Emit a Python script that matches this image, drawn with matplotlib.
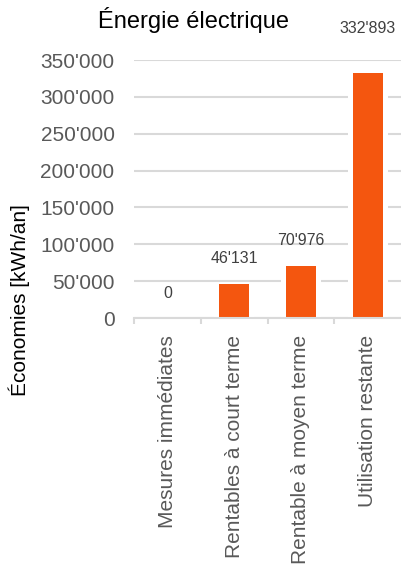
import matplotlib
matplotlib.use('Agg')
import matplotlib.pyplot as plt
from matplotlib.ticker import FuncFormatter
import numpy as np

plt.rcParams['font.family'] = ['Liberation Sans', 'DejaVu Sans']

categories = ['Mesures immédiates', 'Rentables à court terme',
              'Rentable à moyen terme', 'Utilisation restante']
savings = [0, 46131, 70976, 332893]
yticks = [0, 50000, 100000, 150000, 200000, 250000, 300000, 350000]

orange = '#f4560f'
grid = '#d9d9d9'

def swiss(v, pos=None):
    return f'{int(round(v)):,}'.replace(',', "'")

fig = plt.figure(figsize=(4.01, 5.66), dpi=100)
ax = fig.add_axes([134/401, 1-318/566, 1-134/401, 258/566])

x = np.arange(len(categories))
# white backing bars leave a gap in the gridlines around each bar
ax.bar(x, savings, width=0.6, color='white', zorder=2)
ax.bar(x, savings, width=0.45, color=orange, zorder=3)

for xi, v in zip(x, savings):
    off = 32 if v > 300000 else 18
    ax.annotate(swiss(v), (xi, v), xytext=(0, off), textcoords='offset points',
                ha='center', va='center', fontsize=11.5, color='#404040')

ax.set_xlim(-0.5, len(categories) - 0.5)
ax.set_ylim(0, 350000)
ax.set_yticks(yticks)
ax.yaxis.set_major_formatter(FuncFormatter(swiss))
ax.yaxis.grid(True, color=grid, linewidth=1.5, zorder=0)
ax.set_axisbelow(True)

ax.set_xticks(x)
ax.set_xticklabels(categories, rotation=90, va='top', ha='center')
ax.set_xticks(np.arange(len(categories)) - 0.5, minor=True)
ax.tick_params(axis='x', which='major', length=0, pad=12, labelsize=15, labelcolor='#595959')
ax.tick_params(axis='x', which='minor', length=4.5, width=1.5, color=grid)
ax.tick_params(axis='y', length=0, pad=14, labelsize=15, labelcolor='#595959')

for s in ['top', 'right', 'left']:
    ax.spines[s].set_visible(False)
ax.spines['bottom'].set_color(grid)
ax.spines['bottom'].set_linewidth(1.5)
ax.spines['bottom'].set_zorder(4)

fig.text(194/401, 1-20/566, 'Énergie électrique', ha='center', va='center', fontsize=17)
fig.text(19/401, 1-300/566, 'Économies [kWh/an]', rotation=90, ha='center', va='center', fontsize=15)

fig.savefig('out.png', dpi=100)
